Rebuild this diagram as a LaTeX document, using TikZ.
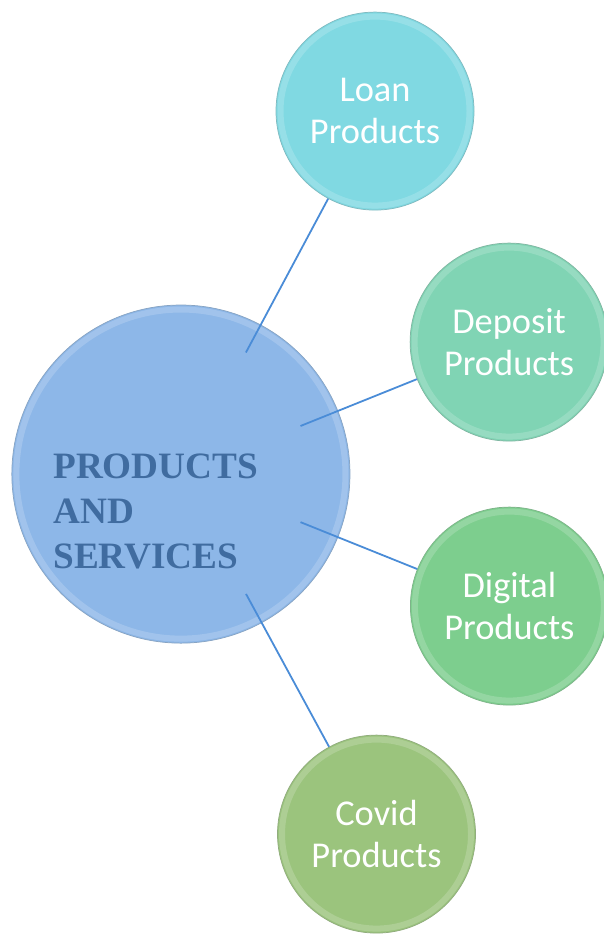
\documentclass[tikz,border=0pt]{standalone}
\usepackage{fontspec}
\newfontfamily\carlito{Carlito}
\newfontfamily\libserif{Liberation Serif}
\definecolor{hubblue}{RGB}{141,183,232}
\definecolor{hubtext}{RGB}{64,108,160}
\definecolor{loancyan}{RGB}{128,217,226}
\definecolor{depositmint}{RGB}{128,212,180}
\definecolor{digitalgreen}{RGB}{125,206,142}
\definecolor{covidgreen}{RGB}{155,196,125}
\definecolor{linkblue}{RGB}{74,140,215}
\usetikzlibrary{positioning,calc}

\tikzset{
  bubble/.style 2 args={circle, minimum size=#1, inner sep=0pt, fill=#2,
    draw=#2!65!gray, line width=0.7pt, text=white, align=center,
    font=\carlito\fontsize{34.5}{39.5}\selectfont,
    path picture={\draw[white, opacity=0.18, line width=0.2cm]
      (path picture bounding box.center) circle[radius=#1/2-0.15cm];}},
  link/.style={draw=linkblue, line width=1.7pt},
}

\begin{document}
\begin{tikzpicture}
  \useasboundingbox (0,0) rectangle (20.1,31.133);

  % hub circle and its caption
  \node[bubble={11.27cm}{hubblue}] (prod) at (6.03,15.33) {};
  \node[anchor=west, inner sep=0pt, align=left, text=hubtext,
    font=\libserif\bfseries\fontsize{35.3}{42.7}\selectfont] (prodtext) at (1.77,14.1)
    {PRODUCTS\\AND\\SERVICES};

  % product circles
  \node[bubble={6.6cm}{loancyan}] (loan) at (12.5,27.43) {Loan\\Products};
  \node[bubble={6.6cm}{depositmint}] (deposit) at (16.97,19.73) {Deposit\\Products};
  \node[bubble={6.6cm}{digitalgreen}] (digital) at (16.98,10.93) {Digital\\Products};
  \node[bubble={6.6cm}{covidgreen}] (covid) at (12.55,3.33) {Covid\\Products};

  % spokes, starting a little inside the hub
  \draw[link, shorten <=-1.05cm] (prod) -- (loan);
  \draw[link, shorten <=-1.35cm] (prod) -- (deposit);
  \draw[link, shorten <=-1.35cm] (prod) -- (digital);
  \draw[link, shorten <=-1.1cm] (prod) -- (covid);
\end{tikzpicture}
\end{document}
